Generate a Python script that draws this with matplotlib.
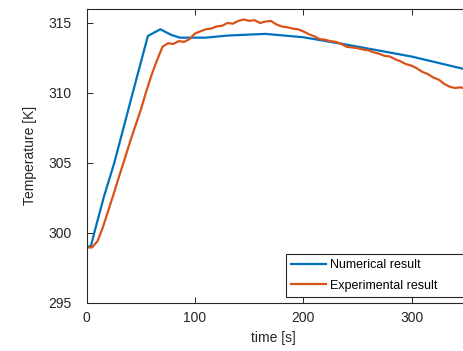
import matplotlib
matplotlib.use("Agg")
import matplotlib.pyplot as plt

# numerical model output (time [s], temperature [K])
num_t = [0, 4, 7, 16, 25.5, 42.5, 56.5, 68, 78, 86, 110, 130, 165, 200, 240, 300, 350]
num_T = [299.0, 299.05, 300.0, 302.6, 305.0, 310.0, 314.07, 314.55, 314.15, 313.95,
         313.95, 314.1, 314.22, 313.98, 313.45, 312.6, 311.68]

# measured temperature, sampled every 5 s
exp_t = list(range(0, 355, 5))
exp_T = [298.95, 298.95, 299.4, 300.4, 301.6, 302.8, 304.05, 305.25, 306.5, 307.65,
         308.8, 310.1, 311.3, 312.35, 313.3, 313.55, 313.5, 313.7, 313.65, 313.85,
         314.25, 314.4, 314.55, 314.6, 314.75, 314.8, 315.0, 314.95, 315.15, 315.25,
         315.15, 315.2, 315.0, 315.1, 315.15, 314.9, 314.75, 314.7, 314.6, 314.55,
         314.4, 314.2, 314.05, 313.85, 313.8, 313.7, 313.65, 313.5, 313.3, 313.25,
         313.2, 313.1, 313.05, 312.9, 312.8, 312.65, 312.6, 312.4, 312.25, 312.05,
         311.95, 311.75, 311.5, 311.35, 311.1, 310.95, 310.65, 310.45, 310.35, 310.4,
         310.3]

x_ticks = [0, 100, 200, 300]
y_ticks = [295, 300, 305, 310, 315]

BLUE = "#0072BD"
ORANGE = "#D95319"
AX_COL = "#262626"

plt.rcParams["font.family"] = ["Liberation Sans", "DejaVu Sans"]

fig = plt.figure(figsize=(4.64, 3.51), dpi=100)
ax = fig.add_axes([0.1868, 0.1376, 0.817, 0.8368])

ax.plot(num_t, num_T, color=BLUE, lw=1.6, label="Numerical result")
ax.plot(exp_t, exp_T, color=ORANGE, lw=1.6, label="Experimental result")

ax.set_xlim(0, 350)
ax.set_ylim(295, 316)
ax.set_xticks(x_ticks)
ax.set_yticks(y_ticks)

for s in ax.spines.values():
    s.set_color(AX_COL)
    s.set_linewidth(0.8)
ax.tick_params(direction="in", top=True, right=False, length=4, width=0.7,
               color=AX_COL, labelsize=10, labelcolor=AX_COL)
ax.tick_params(axis="y", pad=11)
ax.tick_params(axis="x", pad=6)

ax.set_xlabel("time [s]", fontsize=10, color=AX_COL)
ax.set_ylabel("Temperature [K]", fontsize=10, color=AX_COL)
ax.xaxis.set_label_coords(0.493, -0.096)
ax.yaxis.set_label_coords(-0.13, 0.5)

# legend box runs past the right edge of the (cropped) figure
leg = ax.legend(loc="lower left", bbox_to_anchor=(0.526, 0.0204, 0.5, 0.1),
                mode="expand", borderaxespad=0, fontsize=9, fancybox=False,
                framealpha=1, edgecolor=AX_COL, handlelength=2.8,
                handletextpad=0.3, labelspacing=0.7, borderpad=0.4)
leg.get_frame().set_linewidth(0.8)

fig.savefig("out.png", dpi=100)
